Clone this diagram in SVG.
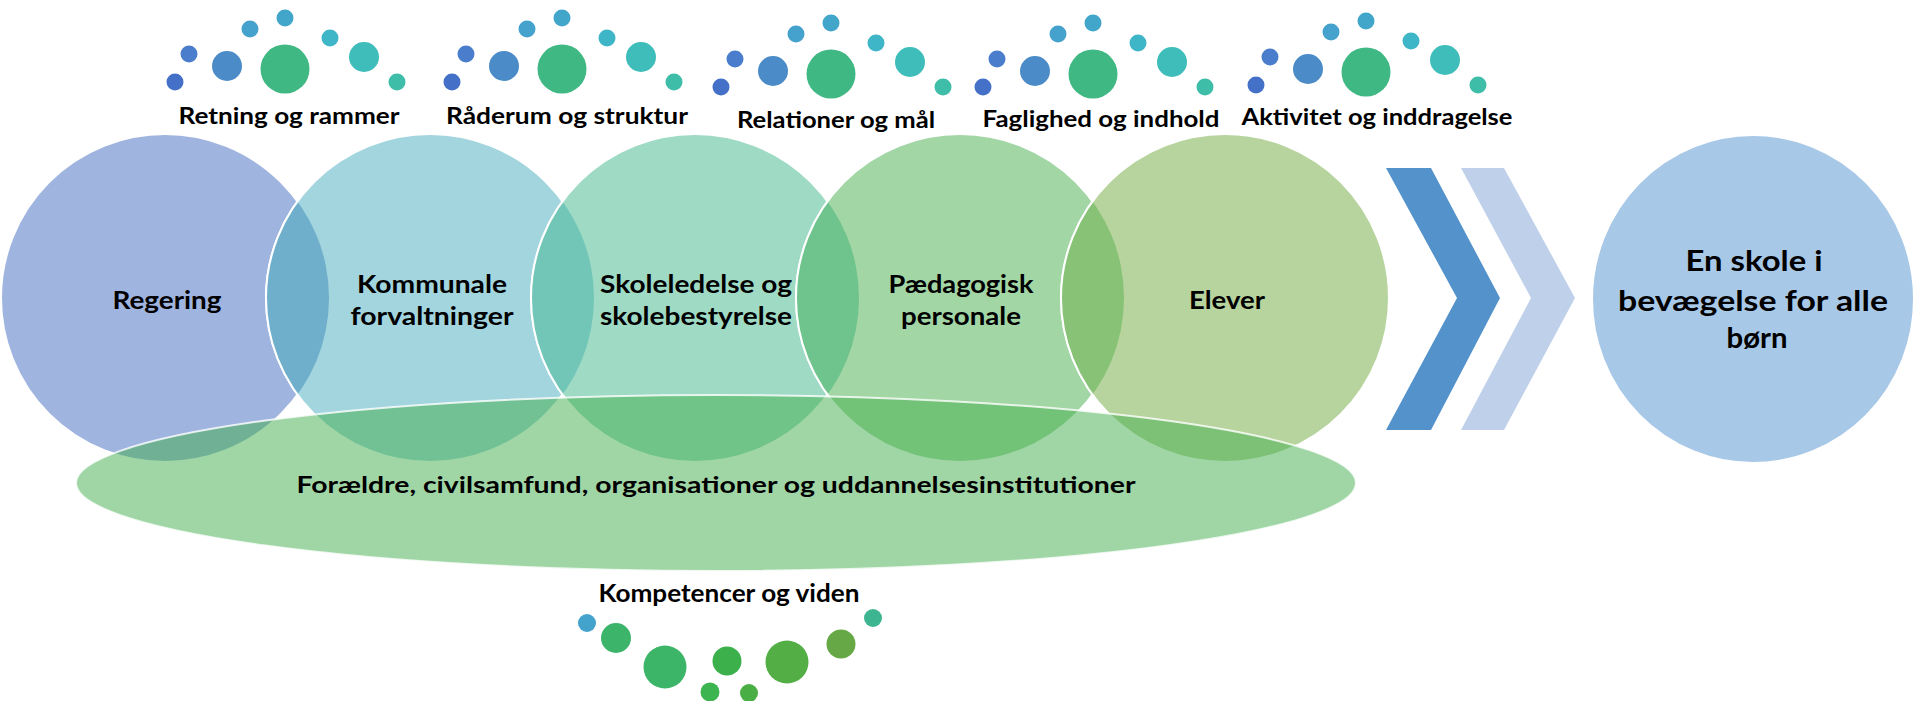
<svg xmlns="http://www.w3.org/2000/svg" xmlns:xlink="http://www.w3.org/1999/xlink" width="1915" height="701" viewBox="0 0 1915 701">
<style>
.lbl{font-family:Lato,"Liberation Sans",sans-serif;font-weight:700;fill:#000;text-anchor:middle}
.top{font-size:22px}
.node{font-size:25px}
.big{font-size:28px}
.ring{stroke:#fff;stroke-width:2}
</style>
<defs>
<clipPath id="clip1"><circle cx="165" cy="298" r="164"/></clipPath>
<clipPath id="clip2"><circle cx="430" cy="298" r="164"/></clipPath>
<clipPath id="clip3"><circle cx="695" cy="298" r="164"/></clipPath>
<clipPath id="clip4"><circle cx="960" cy="298" r="164"/></clipPath>
<g id="cluster">
<circle cx="-110" cy="13" r="8.5" fill="#4470C8"/>
<circle cx="-96" cy="-15" r="8.5" fill="#4A7ECC"/>
<circle cx="-58" cy="-3" r="15" fill="#4A8BC8"/>
<circle cx="-35" cy="-40" r="8.5" fill="#45A2CC"/>
<circle cx="0" cy="0" r="24.5" fill="#40B884"/>
<circle cx="0" cy="-51" r="8.5" fill="#42A6CA"/>
<circle cx="45" cy="-31" r="8.5" fill="#3FB6C8"/>
<circle cx="79" cy="-12" r="15" fill="#3EBDBA"/>
<circle cx="112" cy="13" r="8.5" fill="#3EBDA8"/>
</g>
</defs>
<rect width="1915" height="701" fill="#fff"/>

<g id="decorations-top">
<use xlink:href="#cluster" href="#cluster" x="285" y="69"/>
<use xlink:href="#cluster" href="#cluster" x="562" y="69"/>
<use xlink:href="#cluster" href="#cluster" x="831" y="74"/>
<use xlink:href="#cluster" href="#cluster" x="1093" y="74"/>
<use xlink:href="#cluster" href="#cluster" x="1366" y="72"/>
</g>

<g id="top-labels">
<text class="lbl top" x="289" y="124" textLength="221" lengthAdjust="spacingAndGlyphs">Retning og rammer</text>
<text class="lbl top" x="567" y="124" textLength="242" lengthAdjust="spacingAndGlyphs">Råderum og struktur</text>
<text class="lbl top" x="836" y="128" textLength="198" lengthAdjust="spacingAndGlyphs">Relationer og mål</text>
<text class="lbl top" x="1101" y="127" textLength="237" lengthAdjust="spacingAndGlyphs">Faglighed og indhold</text>
<text class="lbl top" x="1377" y="125" textLength="271" lengthAdjust="spacingAndGlyphs">Aktivitet og inddragelse</text>
</g>

<g id="node-regering">
<circle class="ring" cx="165" cy="298" r="164" fill="#9FB4DF"/>
</g>
<g id="node-kommunale">
<circle class="ring" cx="430" cy="298" r="164" fill="#A2D5DE"/>
<circle class="ring" cx="430" cy="298" r="164" fill="#6FAFCB" clip-path="url(#clip1)"/>
</g>
<g id="node-skoleledelse">
<circle class="ring" cx="695" cy="298" r="164" fill="#9FDAC5"/>
<circle class="ring" cx="695" cy="298" r="164" fill="#72C6B8" clip-path="url(#clip2)"/>
</g>
<g id="node-paedagogisk">
<circle class="ring" cx="960" cy="298" r="164" fill="#A2D6A5"/>
<circle class="ring" cx="960" cy="298" r="164" fill="#6FC38C" clip-path="url(#clip3)"/>
</g>
<g id="node-elever">
<circle class="ring" cx="1225" cy="298" r="164" fill="#B7D49E"/>
<circle class="ring" cx="1225" cy="298" r="164" fill="#88C276" clip-path="url(#clip4)"/>
</g>

<g id="node-foraeldre">
<ellipse cx="716" cy="483" rx="640" ry="88" fill="#41AD4B" fill-opacity="0.5" stroke="#fff" stroke-opacity="0.8" stroke-width="2"/>
<text class="lbl" x="716" y="493" font-size="23" textLength="839" lengthAdjust="spacingAndGlyphs">Forældre, civilsamfund, organisationer og uddannelsesinstitutioner</text>
</g>

<g id="node-labels">
<text class="lbl node" x="167" y="309" textLength="109" lengthAdjust="spacingAndGlyphs">Regering</text>
<text class="lbl node" x="432" y="293" textLength="150" lengthAdjust="spacingAndGlyphs">Kommunale</text>
<text class="lbl node" x="432" y="325" textLength="163" lengthAdjust="spacingAndGlyphs">forvaltninger</text>
<text class="lbl node" x="696" y="293" textLength="192" lengthAdjust="spacingAndGlyphs">Skoleledelse og</text>
<text class="lbl node" x="696" y="325" textLength="192" lengthAdjust="spacingAndGlyphs">skolebestyrelse</text>
<text class="lbl node" x="961" y="293" textLength="145" lengthAdjust="spacingAndGlyphs">Pædagogisk</text>
<text class="lbl node" x="961" y="325" textLength="120" lengthAdjust="spacingAndGlyphs">personale</text>
<text class="lbl node" x="1227" y="309" textLength="76" lengthAdjust="spacingAndGlyphs">Elever</text>
</g>

<g id="connectors">
<path d="M1386,168 L1431,168 L1500,298 L1431,430 L1386,430 L1457,298 Z" fill="#5392CB"/>
<path d="M1461,168 L1504,168 L1575,298 L1504,430 L1461,430 L1531,298 Z" fill="#BFD1EA"/>
</g>

<g id="node-skole">
<ellipse class="ring" cx="1753" cy="299" rx="161" ry="164" fill="#A8C8E8"/>
<text class="lbl big" x="1754" y="271" textLength="137" lengthAdjust="spacingAndGlyphs">En skole i</text>
<text class="lbl big" x="1753" y="311" textLength="270" lengthAdjust="spacingAndGlyphs">bevægelse for alle</text>
<text class="lbl big" x="1757" y="348" textLength="61" lengthAdjust="spacingAndGlyphs">børn</text>
</g>

<g id="kompetencer">
<text class="lbl" x="729" y="602" font-size="24" textLength="261" lengthAdjust="spacingAndGlyphs">Kompetencer og viden</text>
<circle cx="587" cy="623" r="9" fill="#44A3CC"/>
<circle cx="616" cy="638" r="15" fill="#3CB56A"/>
<circle cx="665" cy="667" r="21.5" fill="#3CB568"/>
<circle cx="710" cy="692" r="9.5" fill="#3CB550"/>
<circle cx="727" cy="661" r="14.5" fill="#3BB04B"/>
<circle cx="749" cy="693" r="9" fill="#49AE44"/>
<circle cx="787" cy="662" r="21.5" fill="#52AE45"/>
<circle cx="841" cy="644" r="14.5" fill="#66A845"/>
<circle cx="873" cy="618" r="9" fill="#3CB590"/>
</g>
</svg>
